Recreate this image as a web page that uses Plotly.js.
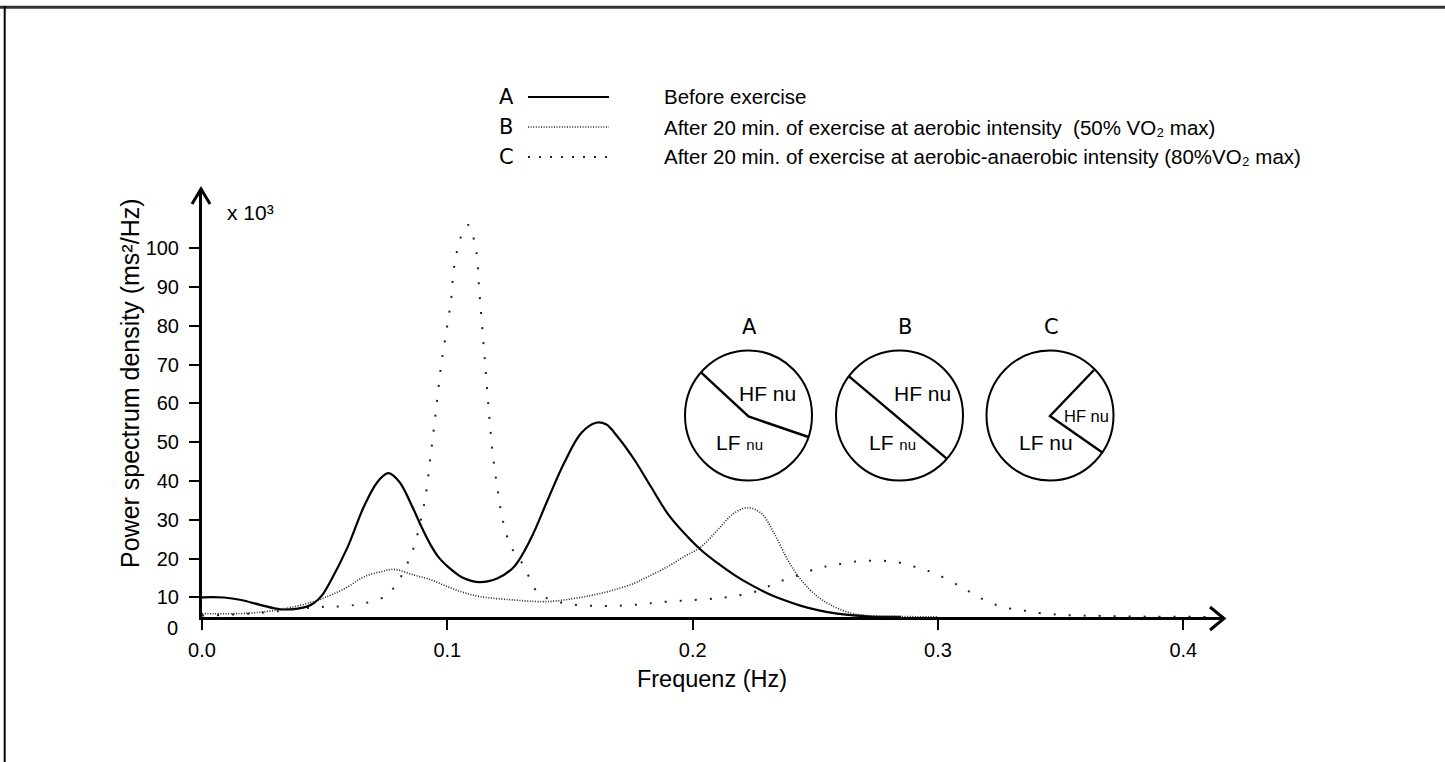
<!DOCTYPE html>
<html>
<head>
<meta charset="utf-8">
<script src="https://cdn.plot.ly/plotly-3.0.1.min.js"></script>
<style>html,body{margin:0;padding:0;background:#fff;}#chart{width:1445px;height:762px;}</style>
</head>
<body>
<div id="chart"></div>
<script>
// ---- Data ----
const freqA = [0, 0.009, 0.016, 0.024, 0.032, 0.0390, 0.0428, 0.0456, 0.0489, 0.0526, 0.0594, 0.066, 0.0716, 0.0759, 0.0804, 0.0857, 0.0893, 0.0933, 0.0965, 0.1002, 0.1035, 0.1068, 0.113, 0.1205, 0.1272, 0.1341, 0.1409, 0.1476, 0.1545, 0.1606, 0.1647, 0.1694, 0.1761, 0.1830, 0.1898, 0.1966, 0.2034, 0.2102, 0.2169, 0.2238, 0.2306, 0.2372, 0.2442, 0.251, 0.2576, 0.2645, 0.2727, 0.285];
const psdA  = [10.0, 9.95, 9.3, 8.0, 6.9, 7.1, 7.6, 8.5, 10.5, 14.4, 23.0, 33.4, 39.8, 42.0, 39.8, 33.4, 28.4, 23.4, 20.3, 17.9, 16.2, 14.9, 13.9, 14.9, 17.9, 25.2, 35.1, 44.6, 52.3, 55.0, 54.6, 51.4, 45.6, 38.5, 31.6, 26.5, 22.2, 18.8, 15.8, 13.2, 11.0, 9.3, 7.8, 6.7, 5.9, 5.4, 5.05, 4.95];

const freqB = [0, 0.0186, 0.0322, 0.0456, 0.0526, 0.0594, 0.066, 0.073, 0.0783, 0.0864, 0.0933, 0.1002, 0.1068, 0.1137, 0.1272, 0.1409, 0.1545, 0.1614, 0.1679, 0.1761, 0.1817, 0.1898, 0.1965, 0.2034, 0.2102, 0.2169, 0.2224, 0.2279, 0.2332, 0.2388, 0.2442, 0.251, 0.2576, 0.2645, 0.2714, 0.285, 0.30];
const psdB  = [5.8, 5.9, 6.9, 8.9, 10.6, 12.7, 15.3, 16.6, 17.2, 15.75, 14.5, 12.7, 11.2, 10.15, 9.3, 8.9, 10.0, 10.85, 11.9, 13.6, 15.3, 17.9, 20.5, 23.0, 27.4, 31.7, 33.1, 31.7, 26.5, 19.6, 14.5, 10.15, 7.6, 5.9, 5.3, 5.05, 4.95];

const freqC = [0, 0.02, 0.0456, 0.0594, 0.066, 0.073, 0.0762, 0.0791, 0.0811, 0.0838, 0.0864, 0.0892, 0.0913, 0.0933, 0.0954, 0.0974, 0.0995, 0.1015, 0.1028, 0.1056, 0.1085, 0.1117, 0.113, 0.1144, 0.1158, 0.1171, 0.1185, 0.1205, 0.1226, 0.126, 0.1314, 0.1355, 0.1395, 0.1477, 0.1613, 0.1749, 0.1898, 0.2102, 0.2197, 0.2279, 0.2333, 0.2414, 0.251, 0.2577, 0.2659, 0.274, 0.2822, 0.2903, 0.2985, 0.3094, 0.3175, 0.3257, 0.3338, 0.342, 0.3529, 0.3664, 0.3868, 0.41];
const psdC  = [5.3, 5.8, 7.4, 7.8, 8.45, 9.7, 11.1, 13.2, 15.3, 18.8, 23.0, 29.9, 36.8, 47.1, 58.3, 69.5, 78.1, 86.7, 95.3, 103.0, 106.0, 99.6, 89.2, 78.1, 66.9, 56.6, 47.1, 37.7, 29.9, 23.0, 17.9, 12.3, 10.15, 8.45, 7.75, 8.0, 8.9, 9.75, 10.6, 11.9, 13.6, 15.3, 17.5, 18.3, 19.2, 19.4, 19.2, 17.9, 16.2, 12.7, 9.75, 7.6, 6.7, 5.9, 5.4, 5.2, 5.0, 4.95];

const xTickVals = [0, 0.1, 0.2, 0.3, 0.4];
const yTickVals = [10, 20, 30, 40, 50, 60, 70, 80, 90, 100];

const seriesLetters = ['A', 'B', 'C'];
const seriesNames = [
  'Before exercise',
  'After 20 min. of exercise at aerobic intensity\u00a0\u00a0(50% VO\u2082 max)',
  'After 20 min. of exercise at aerobic-anaerobic intensity (80%VO\u2082 max)'
];

// ---- Layout geometry (pixels) ----
const W = 1445, H = 762;
const L = 202, R = 1222, T = 190, B = 617;
function px(x) { return (x - L) / (R - L); }
function py(y) { return (B - y) / (B - T); }

const FONT = 'Liberation Sans, Arial, Helvetica, sans-serif';
const WIDE = 'DejaVu Sans, Verdana, sans-serif';

const styleA = {color: '#000', width: 2.2};
const styleB = {color: '#222', width: 1.6, dash: '1px,1.6px'};
const styleC = {color: '#222', width: 2, dash: '2px,13px'};

const traces = [
  {x: freqA, y: psdA, mode: 'lines', line: Object.assign({shape: 'spline', smoothing: 1}, styleA), showlegend: false, name: 'A'},
  {x: freqB, y: psdB, mode: 'lines', line: Object.assign({shape: 'spline', smoothing: 1}, styleB), showlegend: false, name: 'B'},
  {x: freqC, y: psdC, mode: 'lines', line: Object.assign({shape: 'spline', smoothing: 1}, styleC), showlegend: false, name: 'C'}
];

const shapes = [];
const annotations = [];

// frame lines
shapes.push({type: 'line', xref: 'paper', yref: 'paper', x0: px(0), x1: px(W), y0: py(7.3), y1: py(7.3), line: {color: '#333', width: 3}});
shapes.push({type: 'line', xref: 'paper', yref: 'paper', x0: px(4.7), x1: px(4.7), y0: py(6), y1: py(H), line: {color: '#000', width: 2}});

// axis arrow heads
shapes.push({type: 'path', xref: 'paper', yref: 'paper',
  path: `M ${px(192)},${py(204)} L ${px(201)},${py(189)} L ${px(210)},${py(204)}`, line: {color: '#000', width: 3}});
shapes.push({type: 'path', xref: 'paper', yref: 'paper',
  path: `M ${px(1210)},${py(607)} L ${px(1224)},${py(618.5)} L ${px(1210)},${py(630)}`, line: {color: '#000', width: 3}});

// legend
const legY = [97, 127, 157];
const legStyles = [styleA, {color: '#222', width: 1.6, dash: '1px,1.6px'}, {color: '#222', width: 2, dash: '2px,9px'}];
for (let i = 0; i < 3; i++) {
  annotations.push({xref: 'paper', yref: 'paper', x: px(506), y: py(legY[i]), xanchor: 'center', yanchor: 'middle',
    text: seriesLetters[i], showarrow: false, font: {family: WIDE, size: 21, color: '#000'}});
  shapes.push({type: 'line', xref: 'paper', yref: 'paper', x0: px(528), x1: px(609), y0: py(legY[i]), y1: py(legY[i]), line: legStyles[i]});
  annotations.push({xref: 'paper', yref: 'paper', x: px(662), y: py(legY[i]), xanchor: 'left', yanchor: 'middle',
    text: seriesNames[i], showarrow: false, font: {family: FONT, size: 20.5, color: '#000'}});
}

// pies
const pieCx = [748.5, 899.5, 1050];
const pieCy = 415.5, rx = 63.5, ry = 65;
for (let i = 0; i < 3; i++) {
  shapes.push({type: 'circle', xref: 'paper', yref: 'paper',
    x0: px(pieCx[i] - rx), x1: px(pieCx[i] + rx), y0: py(pieCy + ry), y1: py(pieCy - ry), line: {color: '#000', width: 2}});
  annotations.push({xref: 'paper', yref: 'paper', x: px(pieCx[i] + (i === 1 ? 5 : 1)), y: py(327), xanchor: 'center', yanchor: 'middle',
    text: seriesLetters[i], showarrow: false, font: {family: WIDE, size: 21, color: '#000'}});
}
function pth(pts) { return pts.map((p, k) => (k ? 'L ' : 'M ') + px(p[0]) + ',' + py(p[1])).join(' '); }
shapes.push({type: 'path', xref: 'paper', yref: 'paper', path: pth([[701, 372.3], [748.5, 416.5], [808.5, 437]]), line: {color: '#000', width: 2.4}});
shapes.push({type: 'path', xref: 'paper', yref: 'paper', path: pth([[849, 376.3], [947, 458.8]]), line: {color: '#000', width: 2.4}});
shapes.push({type: 'path', xref: 'paper', yref: 'paper', path: pth([[1094, 370], [1050, 416], [1102.7, 452.7]]), line: {color: '#000', width: 2.4}});

function lab(x, y, txt, size) {
  annotations.push({xref: 'paper', yref: 'paper', x: px(x), y: py(y), xanchor: 'left', yanchor: 'middle',
    text: txt, showarrow: false, font: {family: FONT, size: size, color: '#000'}});
}
lab(737, 393, 'HF nu', 21);
lab(714, 442, 'LF <span style="font-size:15px">nu</span>', 21);
lab(892, 393, 'HF nu', 21);
lab(867, 442, 'LF <span style="font-size:15px">nu</span>', 21);
lab(1062, 416, 'HF nu', 16.5);
lab(1017, 442, 'LF nu', 21);

// y multiplier, y title, zero label
annotations.push({xref: 'paper', yref: 'paper', x: px(225), y: py(213), xanchor: 'left', yanchor: 'middle',
  text: 'x 10\u00b3', showarrow: false, font: {family: FONT, size: 21, color: '#000'}});
annotations.push({xref: 'paper', yref: 'paper', x: px(130), y: py(383), xanchor: 'center', yanchor: 'middle', textangle: -90,
  text: 'Power spectrum density (ms\u00b2/Hz)', showarrow: false, font: {family: FONT, size: 25, color: '#000'}});
annotations.push({xref: 'paper', yref: 'paper', x: px(172), y: py(627.5), xanchor: 'center', yanchor: 'middle',
  text: '0', showarrow: false, font: {family: FONT, size: 20, color: '#000'}});

const layout = {
  width: W, height: H,
  margin: {l: L, r: W - R, t: T, b: H - B, pad: 0},
  paper_bgcolor: '#fff', plot_bgcolor: '#fff',
  font: {family: FONT, color: '#000'},
  showlegend: false,
  xaxis: {
    range: [0, (R - L) / 2453.3], tickvals: xTickVals, tickformat: '.1f',
    showgrid: false, zeroline: false, showline: true, linecolor: '#000', linewidth: 3,
    ticks: 'outside', ticklen: 10, tickwidth: 2, tickcolor: '#000', ticklabelstandoff: 3,
    tickfont: {family: FONT, size: 20, color: '#000'},
    title: {text: 'Frequenz (Hz)', font: {family: FONT, size: 23.5, color: '#000'}, standoff: 11}
  },
  yaxis: {
    range: [4.92, 115.03], tickvals: yTickVals,
    showgrid: false, zeroline: false, showline: true, linecolor: '#000', linewidth: 3,
    ticks: 'outside', ticklen: 10, tickwidth: 2, tickcolor: '#000', ticklabelstandoff: 6,
    tickfont: {family: FONT, size: 20, color: '#000'}
  },
  shapes: shapes,
  annotations: annotations
};

Plotly.newPlot('chart', traces, layout, {staticPlot: true, displayModeBar: false});
</script>
</body>
</html>
